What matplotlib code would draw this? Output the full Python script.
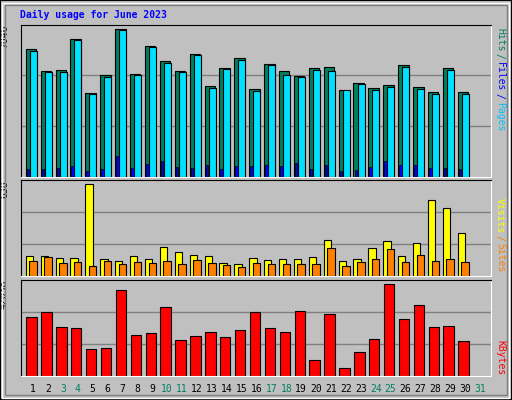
import matplotlib
matplotlib.use("Agg")
import matplotlib.pyplot as plt
from matplotlib.patches import Rectangle
import numpy as np

days = list(range(1, 32))
hits = [5902,4882,4929,6365,3863,4697,6829,4743,6041,5346,4882,5686,4187,5021,5485,4048,5222,4882,4650,5021,5068,4002,4326,4094,4233,5160,4141,3909,5021,3909]
files = [5809,4836,4836,6319,3816,4604,6783,4697,5995,5253,4836,5624,4094,4975,5392,3955,5160,4697,4604,4929,4882,4002,4280,4002,4141,5068,4048,3816,4929,3816]
pages = [340,340,386,479,247,340,942,386,572,711,433,386,525,340,479,479,525,479,618,340,525,247,294,433,711,525,525,386,386,340]
sites = [132,132,119,119,609,113,99,132,113,192,159,139,132,86,79,119,106,113,113,126,238,99,113,185,232,132,219,503,450,285]
visits = [99,126,86,93,66,99,79,93,86,99,79,106,86,73,60,86,79,79,79,79,185,66,93,113,179,93,139,99,113,93]
kbytes = [25725,27930,21315,20874,11613,12054,37632,17787,18669,30135,15582,17346,19110,16905,19992,27930,20874,19110,28371,6762,27048,3234,10290,16023,40278,24843,31017,21315,21756,15141]
weekend = [3,4,10,11,17,18,24,25,31]
max_hits, max_sites, max_kb = 7046, 638, 42038

BG = "#C0C0C0"
fig = plt.figure(figsize=(5.12, 4.0), dpi=100, facecolor=BG)
W, H = 512, 400
MONO = "DejaVu Sans Mono"

# frame
fig.patches.append(Rectangle((0, 0), 1, 1, transform=fig.transFigure, fill=False, ec="black", lw=1.5))
fig.patches.append(Rectangle((2/W, 2/H), 1-5/W, 1-5/H, transform=fig.transFigure, fill=False, ec="white", lw=1))
fig.patches.append(Rectangle((5/W, 5/H), 1-10/W, 1-10/H, transform=fig.transFigure, fill=False, ec="#808080", lw=1))

def mkax(ytop, ybot):
    ax = fig.add_axes([20.7/W, 1-ybot/H, 470/W, (ybot-ytop)/H])
    ax.set_facecolor(BG)
    ax.set_xlim(0.17, 31.72)
    ax.set_xticks([]); ax.set_yticks([])
    ax.spines['left'].set_color('black'); ax.spines['top'].set_color('black')
    ax.spines['right'].set_color('white'); ax.spines['bottom'].set_color('white')
    return ax

x = np.array(days[:30])
ax1 = mkax(24.7, 176.7)
ax1.set_ylim(0, max_hits)
for g in (max_hits/3, 2*max_hits/3):
    ax1.axhline(g, color="#808080", lw=1, zorder=0)
ax1.bar(x-0.49, hits, width=0.7, align='edge', color="#008060", ec="black", lw=0.8, zorder=2)
ax1.bar(x-0.22, files, width=0.47, align='edge', color="#00E0FF", ec="black", lw=0.8, zorder=3)
ax1.bar(x-0.42, pages, width=0.17, align='edge', color="#0000FF", ec="black", lw=0.5, zorder=4)
ax1.text(-0.025, 1.0, str(max_hits), transform=ax1.transAxes, rotation=90, ha='right', va='top',
         fontsize=7, family=MONO)

ax2 = mkax(180, 276.3)
ax2.set_ylim(0, max_sites)
for g in (max_sites/3, 2*max_sites/3):
    ax2.axhline(g, color="#808080", lw=1, zorder=0)
ax2.bar(x-0.49, sites, width=0.49, align='edge', color="#FFFF00", ec="black", lw=0.8, zorder=2)
ax2.bar(x-0.25, visits, width=0.5, align='edge', color="#FF8000", ec="black", lw=0.8, zorder=3)
ax2.text(-0.025, 1.0, str(max_sites), transform=ax2.transAxes, rotation=90, ha='right', va='top',
         fontsize=7, family=MONO)

ax3 = mkax(280, 375.7)
ax3.set_ylim(0, max_kb)
for g in (max_kb/3, 2*max_kb/3):
    ax3.axhline(g, color="#808080", lw=1, zorder=0)
ax3.bar(x-0.45, kbytes, width=0.7, align='edge', color="#FF0000", ec="black", lw=0.8, zorder=2)
ax3.text(-0.025, 1.0, str(max_kb), transform=ax3.transAxes, rotation=90, ha='right', va='top',
         fontsize=7, family=MONO)

for d in days:
    ax3.text(d, -0.09, str(d), transform=ax3.get_xaxis_transform(), ha='center', va='top',
             fontsize=7, family=MONO, color="#008060" if d in weekend else "black")

fig.text(20/W, 1-15/H, "Daily usage for June 2023", color="#0000FF", fontsize=7, family=MONO,
         weight='bold', va='center', ha='left')

def rlabel(parts, ytop):
    y = ytop
    for txt, col in parts:
        fig.text(500/W, 1-y/H, txt, rotation=270, color=col, fontsize=7, family=MONO,
                 ha='center', va='top')
        y += len(txt)*5.6 + 3

rlabel([("Hits", "#008060"), ("/", "#008060"), ("Files", "#0000FF"), ("/", "#0000FF"), ("Pages", "#00C0FF")], 28)
rlabel([("Visits", "#FFFF00"), ("/", "#FF8000"), ("Sites", "#FF8000")], 198)
rlabel([("KBytes", "#FF0000")], 340)

fig.savefig("out.png", dpi=100, facecolor=BG)
